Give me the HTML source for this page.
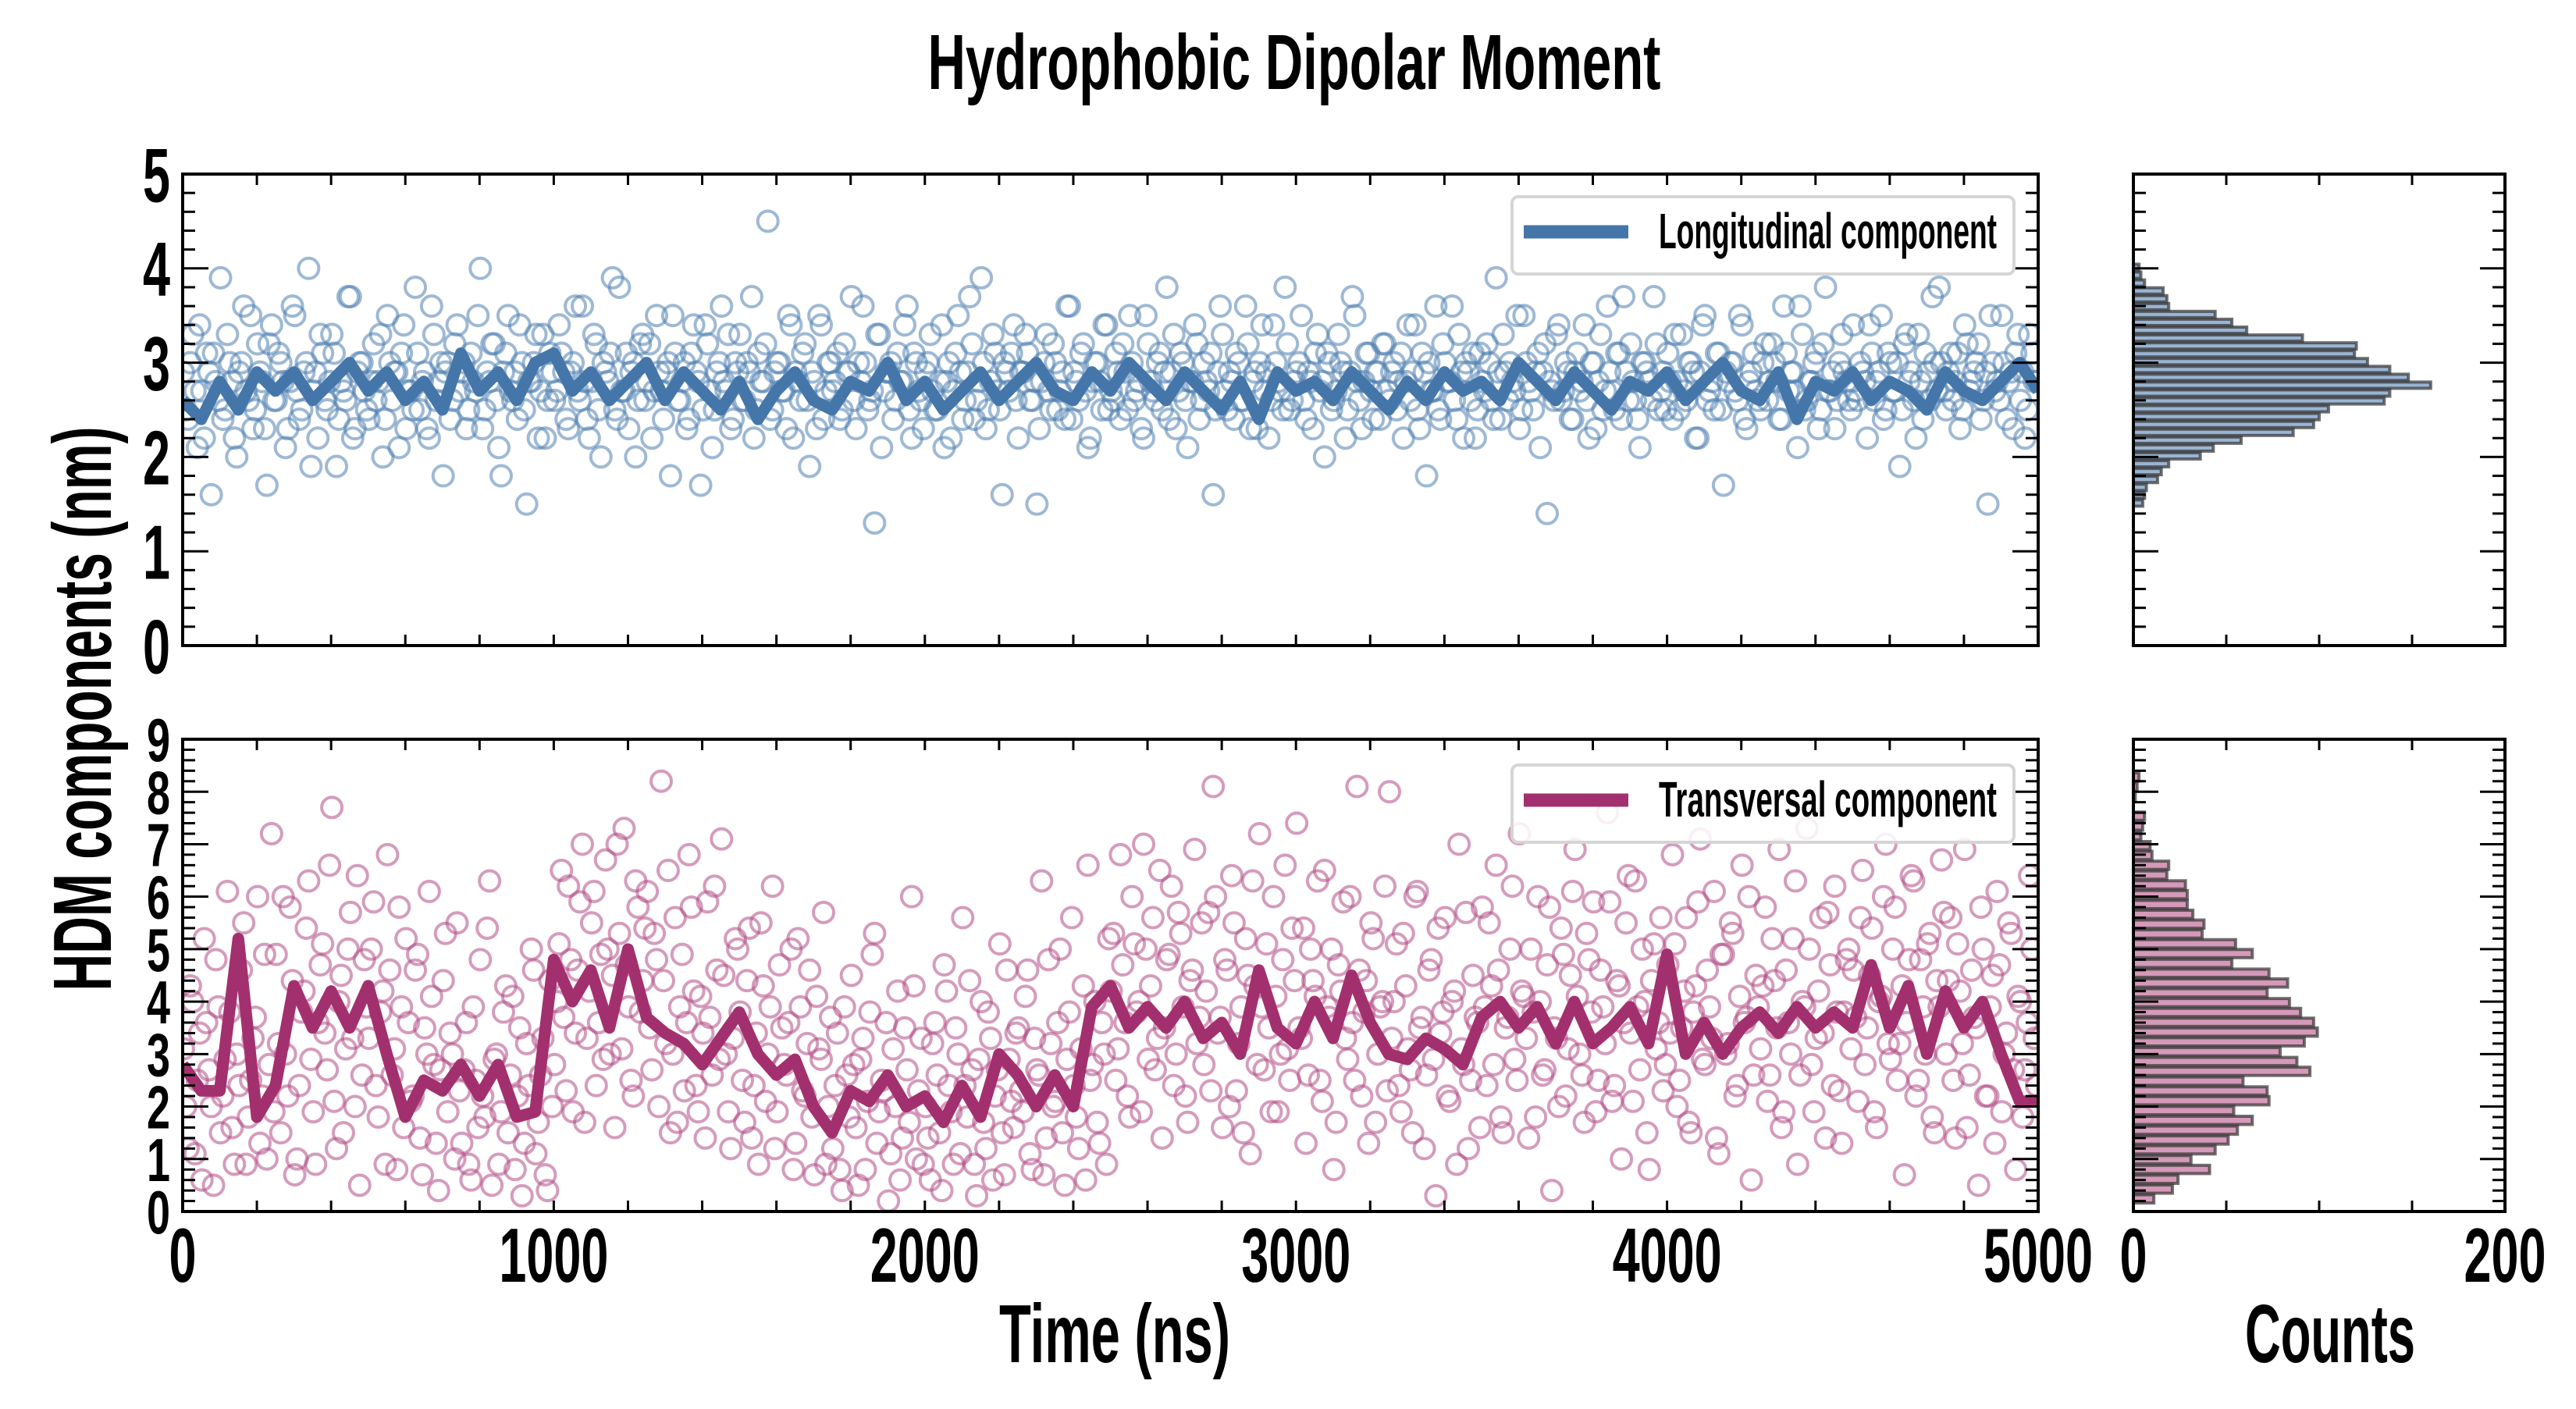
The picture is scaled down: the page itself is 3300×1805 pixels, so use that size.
<!DOCTYPE html>
<html><head><meta charset="utf-8"><style>
html,body{margin:0;padding:0;background:#fff}
svg text{font-family:"Liberation Sans Narrow","Liberation Sans",sans-serif;font-weight:bold;fill:#000}
</style></head><body>
<svg id="fig" width="3300" height="1800" viewBox="0 0 3300 1800" xmlns="http://www.w3.org/2000/svg">
<rect width="3300" height="1800" fill="#fff"/>
<text x="1658" y="114" font-size="100" text-anchor="middle" textLength="939" lengthAdjust="spacingAndGlyphs">Hydrophobic Dipolar Moment</text>
<g id="top"></g>
<g id="bot"></g>
<g id="htop"></g>
<g id="hbot"></g>
<text x="106" y="908" font-size="106" text-anchor="middle" transform="rotate(-90 106 908)" dy="36" textLength="723" lengthAdjust="spacingAndGlyphs">HDM components (nm)</text>
<text x="1428" y="1745" font-size="106" text-anchor="middle" textLength="296" lengthAdjust="spacingAndGlyphs">Time (ns)</text>
<text x="2985" y="1745" font-size="106" text-anchor="middle" textLength="218" lengthAdjust="spacingAndGlyphs">Counts</text>
</svg>
<script>
const longScatter=[2.9,2.4,3.3,2.1,2.7,3.1,1.6,2.8,3.9,2.5,3.0,2.2,2.9,3.6,2.6,2.3,3.2,2.8,1.7,3.4,
2.6,3.0,2.1,2.8,3.5,2.4,2.9,4.0,2.7,2.2,3.1,2.5,3.3,1.9,2.8,2.6,3.7,2.3,3.0,2.7,
2.4,3.2,2.8,2.0,3.5,2.6,2.9,3.1,2.3,2.7,3.8,2.5,2.9,2.2,3.3,2.8,1.8,3.0,2.6,3.4,
2.9,2.3,3.1,2.7,4.0,2.5,2.8,3.2,2.1,2.9,3.5,2.6,2.4,3.0,1.5,2.8,3.3,2.7,2.2,3.1,
2.6,3.4,2.9,2.3,3.0,2.7,3.6,2.4,2.8,3.2,2.0,2.9,3.1,2.5,3.8,2.7,2.3,3.0,2.6,3.3,
2.8,2.2,3.5,2.7,2.9,1.8,3.1,2.6,3.0,2.4,3.4,2.8,2.5,3.2,2.1,2.9,3.6,2.7,2.3,3.0,
3.3,2.6,2.9,2.2,3.1,2.8,4.5,2.5,3.0,2.7,2.3,3.4,2.9,2.6,3.2,1.9,2.8,3.5,2.4,3.0,
2.7,3.1,2.5,2.9,3.7,2.3,2.8,3.0,2.6,1.3,3.3,2.7,2.9,2.4,3.1,2.8,3.6,2.2,3.0,2.6,
2.9,3.3,2.5,2.8,2.1,3.0,2.7,3.5,2.4,2.9,3.2,2.6,3.9,2.3,2.8,3.1,2.5,3.0,2.7,3.4,
2.2,2.9,3.1,2.6,1.5,2.8,3.3,2.5,3.0,2.7,2.4,3.6,2.9,2.6,3.2,2.1,2.8,3.0,2.5,3.4,
2.7,3.1,2.4,2.9,3.5,2.6,2.8,2.2,3.2,2.7,3.0,2.5,3.8,2.9,2.3,3.1,2.6,2.8,3.4,2.4,
3.0,2.7,1.6,2.9,3.3,2.5,2.8,3.1,2.6,3.6,2.3,2.9,3.0,2.7,2.2,3.4,2.8,2.5,3.2,2.6,
2.9,3.5,2.4,2.8,3.1,2.7,2.0,3.0,2.6,3.3,2.9,2.5,3.7,2.8,2.3,3.1,2.7,2.9,2.4,3.2,
2.6,3.0,2.8,2.2,3.4,2.9,2.5,3.1,1.8,2.7,3.6,2.4,3.0,2.8,2.6,3.3,2.2,2.9,3.1,2.5,
2.8,3.2,2.6,3.9,2.4,2.9,3.0,2.7,2.3,3.5,2.8,2.5,3.1,2.9,1.4,2.7,3.3,2.6,3.0,2.4,
2.9,2.7,3.4,2.2,3.0,2.8,2.5,3.6,2.7,3.1,2.4,2.9,3.2,2.6,2.1,3.0,2.8,3.7,2.5,2.9,
3.1,2.4,2.8,3.3,2.6,3.0,2.2,2.9,3.5,2.7,2.5,3.1,1.7,2.8,3.0,2.6,3.4,2.3,2.9,2.7,
2.5,3.2,2.8,3.0,2.4,3.6,2.7,2.9,2.1,3.3,2.6,2.8,3.1,2.5,3.8,2.7,2.3,3.0,2.9,2.6,
3.4,2.6,2.9,2.2,3.1,2.8,3.5,2.5,3.0,2.7,1.9,3.2,2.8,2.6,3.3,2.4,2.9,3.7,2.7,3.0,
2.5,3.1,2.8,2.3,3.4,2.7,2.9,3.2,2.6,1.5,3.0,2.8,3.5,2.4,2.9,3.1,2.6,2.2,3.3,2.8];
const longScatter2=[2.5,3.0,2.7,3.4,2.2,2.9,3.1,2.6,2.4,3.3,2.8,2.0,3.0,2.7,3.5,2.5,2.9,2.3,3.2,2.6,
3.1,2.8,2.3,3.6,2.7,2.5,3.0,1.9,2.9,3.3,2.6,2.8,3.1,2.4,2.7,3.7,2.2,2.9,3.0,2.5,
2.8,2.6,3.3,2.4,3.0,2.9,2.1,3.4,2.7,2.5,3.1,2.8,2.3,3.6,2.6,3.0,2.9,2.4,3.2,2.7,
3.0,2.5,2.8,3.5,2.3,2.9,3.2,2.6,1.8,3.1,2.7,2.9,3.4,2.5,2.8,3.0,2.2,3.3,2.6,2.9,
2.7,3.1,2.4,2.9,3.6,2.6,2.8,2.2,3.3,2.5,3.0,2.8,3.9,2.4,2.7,3.1,2.9,2.0,3.2,2.6,
3.2,2.7,2.9,2.4,3.0,3.5,2.6,2.8,2.3,3.1,2.9,1.7,3.4,2.7,2.5,3.0,2.8,3.3,2.4,2.9,
2.6,3.0,3.7,2.5,2.8,3.2,2.4,2.9,3.0,2.7,3.5,2.2,2.8,3.1,2.6,2.9,2.3,3.4,2.7,3.0,
2.8,2.4,3.2,2.9,2.6,3.0,3.6,2.5,2.7,3.3,2.1,2.9,3.0,2.6,2.8,3.4,2.5,3.1,2.7,2.3,
3.0,2.7,2.5,3.4,2.8,2.2,3.1,2.9,2.6,3.7,2.4,2.8,3.0,2.5,3.3,2.7,1.6,2.9,3.1,2.6,
2.9,3.3,2.6,2.8,2.3,3.0,2.7,3.2,2.5,2.9,3.6,2.4,2.8,3.1,2.7,2.2,3.0,2.8,3.4,2.5,
2.6,2.9,3.2,2.5,3.0,2.7,2.3,3.5,2.8,2.6,3.1,2.9,2.4,3.3,2.7,3.0,2.1,2.8,3.2,2.6,
2.8,3.1,2.5,3.6,2.7,2.9,2.4,3.0,2.6,3.2,2.8,2.3,3.4,2.9,2.6,3.0,2.7,3.8,2.5,2.8,
3.0,2.6,2.9,2.3,3.3,2.8,3.1,2.5,2.7,3.0,2.2,2.9,3.5,2.6,2.8,3.1,2.4,2.9,3.2,2.7,
2.9,2.5,3.1,2.8,2.6,3.4,2.3,2.9,3.0,2.7,2.5,3.2,2.8,3.6,2.4,2.9,3.0,2.6,2.2,3.1,
2.7,3.0,2.4,2.9,3.3,2.6,2.8,3.5,2.5,3.0,2.7,2.9,2.1,3.2,2.8,2.6,3.4,2.7,2.9,2.4,
3.1,2.8,2.6,3.0,2.3,3.3,2.7,2.9,2.5,3.1,3.7,2.6,2.8,2.4,3.0,2.9,2.6,3.2,2.7,2.5,
2.8,3.3,2.5,2.7,3.0,2.9,2.2,3.4,2.6,2.8,3.1,2.5,2.9,3.0,2.7,3.5,2.4,2.8,3.1,2.6,
3.0,2.6,3.2,2.8,2.4,3.1,2.9,2.7,3.6,2.5,2.8,3.0,2.3,3.2,2.7,2.9,2.6,3.3,2.8,2.5,
2.7,3.0,2.8,3.4,2.6,2.9,2.4,3.1,2.7,3.0,2.5,3.3,2.9,2.2,2.8,3.1,2.6,3.0,3.8,2.7,
2.9,2.6,3.1,2.5,3.2,2.8,3.0,2.4,2.9,3.5,2.7,2.6,3.0,2.8,2.3,3.3,2.9,2.5,3.1,2.8];
const transScatter=[3.1,1.2,4.0,2.5,0.6,3.6,2.0,4.8,1.5,2.9,3.8,0.9,2.4,5.5,1.8,3.3,6.0,2.2,1.0,7.2,
4.9,1.5,3.0,5.8,0.7,2.4,4.2,6.3,1.9,3.6,5.1,2.7,7.7,1.2,4.5,3.1,5.7,2.0,0.5,4.8,
3.3,5.9,1.8,4.2,6.8,2.6,0.8,3.9,5.2,2.1,4.6,1.4,3.5,6.1,2.8,0.4,4.4,1.9,3.0,5.5,
1.3,3.6,0.6,2.5,4.8,1.8,6.3,2.9,0.9,3.8,1.5,4.1,2.2,0.3,3.2,5.0,1.1,2.6,0.7,4.4,
2.8,5.1,3.7,6.2,1.9,4.6,7.0,3.3,5.5,2.4,4.9,6.7,3.0,1.6,5.3,7.3,3.9,2.2,5.8,4.4,
6.1,2.7,4.8,8.2,3.2,1.5,5.6,3.9,2.3,6.8,4.2,1.9,3.4,5.9,2.6,4.6,7.1,3.0,1.2,5.2,
3.8,1.7,5.4,2.4,0.9,4.3,3.0,6.2,1.9,3.5,2.6,5.0,1.3,3.9,2.2,4.6,0.7,3.1,5.7,2.0,
1.2,3.4,0.4,2.6,4.5,1.6,2.9,0.8,3.8,5.3,1.9,2.3,0.2,3.1,4.2,1.4,2.7,6.0,1.0,3.3,
2.0,0.6,3.6,1.5,4.7,2.4,0.9,3.0,5.6,1.8,2.7,0.3,4.0,1.2,3.3,2.2,5.1,0.7,2.9,1.6,
3.5,1.9,4.6,0.8,2.7,6.3,1.4,3.2,2.1,5.0,0.5,3.8,2.4,1.2,4.3,6.6,2.8,1.7,3.6,0.9,
4.2,2.5,6.8,3.6,1.8,5.1,4.0,7.0,2.9,5.6,3.3,1.4,4.8,6.2,3.0,5.3,2.2,4.4,6.9,3.7,
2.8,5.7,8.1,3.4,1.6,4.6,6.4,2.3,3.9,5.2,1.1,4.3,7.2,2.7,3.5,6.0,1.9,4.8,3.1,5.4,
7.4,3.3,1.3,5.0,4.1,2.5,6.5,3.7,0.8,4.7,5.9,2.9,3.6,8.1,2.2,4.4,5.5,1.7,3.9,6.2,
8.0,4.0,2.4,5.3,3.1,1.5,6.1,3.7,2.6,4.8,0.3,3.4,5.6,2.1,4.2,7.0,2.8,1.2,4.5,3.6,
5.8,2.4,4.3,6.6,1.8,3.5,5.0,2.9,7.2,4.1,1.4,3.8,6.0,2.6,4.7,0.4,3.3,5.4,2.2,4.5,
6.9,3.0,1.7,4.8,5.9,2.5,3.9,7.6,2.1,4.4,1.0,5.5,3.4,6.3,2.7,4.0,0.8,5.1,3.6,2.3,
4.7,6.8,2.0,3.5,5.6,1.5,4.3,7.1,2.8,3.9,6.1,1.1,4.9,3.2,5.3,2.4,6.6,3.7,0.6,4.5,
3.1,5.8,2.6,4.4,6.9,1.9,3.6,5.2,0.9,4.0,7.3,2.8,3.3,5.6,1.4,4.7,6.2,2.3,3.8,5.0,
4.6,2.1,6.5,3.5,5.4,1.6,4.1,7.0,2.9,5.8,3.2,0.7,4.8,6.3,2.5,3.9,5.1,1.8,4.4,6.7,
3.0,5.6,1.4,4.2,6.9,2.6,3.7,0.5,5.0,2.2,4.5,6.1,1.9,3.4,5.3,0.8,4.0,2.7,6.4,3.3];
const transScatter2=[2.0,4.3,1.1,3.4,5.2,2.7,0.5,3.9,2.2,6.1,1.6,3.0,4.6,0.9,2.5,3.7,1.3,4.9,2.8,1.9,
3.2,6.0,2.2,4.4,1.0,3.8,5.4,2.9,0.9,4.7,3.4,6.6,2.1,4.0,1.5,5.0,3.3,6.4,2.6,3.9,
5.0,2.4,3.8,0.9,4.6,3.1,5.8,1.6,3.6,2.2,4.9,0.7,3.0,4.1,1.3,2.7,5.3,3.4,1.0,2.3,
2.7,0.9,3.9,1.6,2.2,5.4,0.5,3.0,1.9,4.3,2.6,0.8,3.5,1.3,2.4,4.6,1.7,3.3,0.4,2.0,
4.0,6.5,2.3,4.8,3.4,5.9,1.7,4.2,6.1,3.6,2.9,5.0,4.5,7.0,3.1,4.7,2.5,6.3,3.8,5.4,
3.5,5.3,2.0,4.4,6.5,3.0,1.7,4.9,3.6,5.8,2.4,4.1,1.4,3.7,6.2,2.9,4.5,1.9,3.3,5.0,
2.5,4.4,1.4,3.4,5.5,2.1,3.9,1.2,4.7,2.8,3.6,0.8,5.2,2.3,3.2,1.8,4.1,2.9,0.9,3.7,
2.4,0.8,3.9,1.8,2.8,0.5,3.3,2.1,4.9,1.3,2.5,3.6,1.1,2.0,0.6,3.5,1.7,4.3,2.3,0.9,
1.4,3.2,2.6,0.4,4.2,1.9,3.5,1.1,2.4,4.4,0.9,2.9,1.7,3.8,0.6,2.7,1.5,4.6,2.1,3.4,
2.3,4.1,1.1,3.3,2.6,0.7,4.8,2.0,3.6,1.5,2.9,5.6,1.8,3.1,0.6,2.5,4.0,1.3,3.0,5.2,
5.3,3.1,4.7,2.2,6.0,3.8,1.9,5.0,4.3,2.7,6.5,3.5,4.9,2.4,5.7,3.9,1.7,4.6,3.2,5.5,
4.2,2.3,6.0,3.7,4.8,2.0,5.5,3.2,1.5,4.5,6.3,2.8,3.9,5.1,1.9,4.1,3.0,6.6,2.5,4.4,
3.5,5.4,2.6,4.4,6.3,2.1,3.9,5.0,1.7,4.2,3.3,6.0,2.5,4.6,3.8,1.3,5.2,3.0,4.0,2.3,
3.3,5.1,1.9,4.3,2.7,6.0,3.5,1.2,4.6,2.9,5.4,3.8,2.2,4.0,0.9,3.1,5.7,2.5,3.7,1.6,
3.9,5.5,2.8,4.6,1.5,3.7,6.2,2.5,4.2,3.3,5.0,1.8,4.0,2.7,5.8,3.5,2.0,4.9,3.1,6.1,
4.1,2.6,5.3,3.8,1.9,4.6,3.2,5.9,2.4,4.3,3.6,6.4,2.1,3.9,5.0,1.5,4.4,3.1,5.6,2.8,
3.4,5.1,2.5,4.2,1.7,3.8,5.9,2.9,4.6,3.3,1.4,4.9,3.0,5.5,2.2,4.1,3.6,6.0,2.6,3.9,
4.3,2.1,5.2,3.5,1.6,4.6,3.0,6.3,2.6,3.9,5.0,1.9,4.2,3.4,5.7,2.4,3.8,1.3,4.8,3.1,
3.7,5.6,2.8,4.5,1.9,4.0,6.0,3.2,5.0,2.5,4.3,3.6,6.4,2.2,4.8,3.0,5.3,1.5,3.9,5.7,
4.4,2.5,5.1,3.2,1.6,4.6,3.5,5.8,2.2,3.9,1.3,4.7,3.0,5.5,2.7,4.1,1.8,3.6,5.0,2.4];
const longMean=[2.6,2.4,2.8,2.5,2.9,2.7,2.9,2.6,2.8,3.0,2.7,2.9,2.6,2.8,2.5,3.1,2.7,2.9,2.6,3.0,
3.1,2.7,2.9,2.6,2.8,3.0,2.6,2.9,2.7,2.5,2.8,2.4,2.7,2.9,2.6,2.5,2.8,2.7,3.0,2.6,
2.8,2.5,2.7,2.9,2.6,2.8,3.0,2.7,2.6,2.9,2.7,3.0,2.8,2.6,2.9,2.7,2.5,2.8,2.4,2.9,
2.7,2.8,2.6,2.9,2.7,2.5,2.8,2.6,2.9,2.7,2.8,2.6,3.0,2.8,2.6,2.9,2.7,2.5,2.8,2.7,
2.9,2.6,2.8,3.0,2.7,2.6,2.9,2.4,2.8,2.7,2.9,2.6,2.8,2.7,2.5,2.9,2.7,2.6,2.8,3.0,2.7];
const transMean=[2.8,2.3,2.3,5.2,1.8,2.4,4.3,3.5,4.2,3.5,4.3,3.0,1.8,2.5,2.3,2.8,2.2,2.8,1.8,1.9,
4.8,4.0,4.6,3.5,5.0,3.7,3.4,3.2,2.8,3.3,3.8,3.0,2.6,2.9,2.0,1.5,2.3,2.1,2.6,2.0,
2.2,1.7,2.4,1.8,3.0,2.6,2.0,2.6,2.0,3.9,4.3,3.5,3.9,3.5,4.0,3.3,3.6,3.0,4.6,3.5,
3.2,4.0,3.3,4.5,3.6,3.0,2.9,3.3,3.1,2.8,3.7,4.0,3.5,3.9,3.2,4.0,3.2,3.5,3.9,3.2,
4.9,3.0,3.6,3.0,3.5,3.8,3.4,3.9,3.5,3.8,3.5,4.7,3.5,4.3,3.0,4.2,3.5,4.0,3.0,2.1,2.1];
const longCounts=[5,6,7,13,15,19,36,43,58,86,97,100,105,135,138,160,148,138,126,119,120,91,61,53,44,19,18,16,6,4,3];
const transCounts=[11,21,24,41,31,44,51,56,64,54,73,72,59,95,88,79,92,99,97,90,84,72,83,73,53,64,55,37,38,32,29,29,28,18,19,10,9,4,5,6,0,1,2,3];
const longBinStart=1.47, longBinW=0.0833;
const transBinStart=0.147, transBinW=0.187;
const xTicks=[0,1000,2000,3000,4000,5000];
const yTicksTop=[0,1,2,3,4,5];
const yTicksBot=[0,1,2,3,4,5,6,7,8,9];
const histTicks=[0,200];

const NS='http://www.w3.org/2000/svg';
function mk(p,tag,at){const e=document.createElementNS(NS,tag);for(const k in at)e.setAttribute(k,at[k]);p.appendChild(e);return e;}
const X0=234,X1=2611, HX0=2733,HX1=3209;
const sx=t=>X0+(t/5000)*(X1-X0);
const hx=c=>HX0+(c/200)*(HX1-HX0);
const DW=35, TFS=98;

function panel(g,y0,y1,ymax,scat,scat2,mean,col,lineCol,ytl,legText,legY,showX,yfs,ydw){
  const sy=v=>y1-(v/ymax)*(y1-y0);
  const clip=mk(g,'clipPath',{id:'c'+y0});mk(clip,'rect',{x:X0,y:y0,width:X1-X0,height:y1-y0});
  const cg=mk(g,'g',{'clip-path':'url(#c'+y0+')'});
  
  
  const step=5000/scat.length;
  [[scat,2],[scat2,2+step/2]].forEach(([arr,off])=>{
    arr.forEach((v,i)=>{const c=mk(cg,'circle',{cx:sx(i*step+off),cy:sy(v),r:13,fill:'none',stroke:col,'stroke-width':4,'stroke-opacity':0.55});
      
      });
  });
  const d=mean.map((v,i)=>(i?'L':'M')+sx(i*5000/(mean.length-1)).toFixed(1)+' '+sy(v).toFixed(1)).join(' ');
  const pl=mk(g,'path',{d:d,fill:'none',stroke:lineCol,'stroke-width':15,'stroke-linejoin':'round','clip-path':'url(#c'+y0+')'});
  
  
  const tk=mk(g,'g',{stroke:'#000','stroke-width':3});
  
  
  for(let t=0;t<=5000;t+=200){mk(tk,'line',{x1:sx(t),x2:sx(t),y1:y1,y2:y1-14});mk(tk,'line',{x1:sx(t),x2:sx(t),y1:y0,y2:y0+14});}
  for(let v=0;v<=ymax+1e-6;v+=0.2){const maj=Math.abs(v-Math.round(v))<1e-6;const L=maj?33:16;
    mk(tk,'line',{x1:X0,x2:X0+L,y1:sy(v),y2:sy(v)});mk(tk,'line',{x1:X1,x2:X1-L,y1:sy(v),y2:sy(v)});}
  mk(g,'rect',{x:X0,y:y0,width:X1-X0,height:y1-y0,fill:'none',stroke:'#000','stroke-width':4});
  ytl.forEach(v=>{const s=String(v);const t=mk(g,'text',{x:218,y:sy(v)+yfs*0.36,'font-size':yfs,'text-anchor':'end',textLength:s.length*ydw,lengthAdjust:'spacingAndGlyphs'});t.textContent=s;
    
    });
  if(showX){xTicks.forEach(v=>{const s=String(v);const t=mk(g,'text',{x:sx(v),y:1642,'font-size':TFS,'text-anchor':'middle',textLength:s.length*DW,lengthAdjust:'spacingAndGlyphs'});t.textContent=s;
    
    });}
  const lg=mk(g,'g',{});
  
  
  mk(lg,'rect',{x:1937,y:legY-45,width:643,height:99,rx:8,fill:'#fff','fill-opacity':0.85,stroke:'#d5d5d5','stroke-width':4});
  mk(lg,'line',{x1:1952,x2:2086,y1:legY,y2:legY,stroke:lineCol,'stroke-width':17});
  const lt=mk(lg,'text',{x:2125,y:legY+21,'font-size':64,textLength:433,lengthAdjust:'spacingAndGlyphs'});lt.textContent=legText;
  
  
}
function hist(g,y0,y1,ymax,counts,b0,bw,fill,showX){
  const sy=v=>y1-(v/ymax)*(y1-y0);
  counts.forEach((c,i)=>{if(!c)return;const lo=b0+i*bw;
    const r=mk(g,'rect',{x:HX0,y:sy(lo+bw)+1,width:hx(c)-HX0,height:sy(lo)-sy(lo+bw)-2,fill:fill,stroke:'#333','stroke-opacity':0.7,'stroke-width':4});
    
    });
  const tk=mk(g,'g',{stroke:'#000','stroke-width':3});
  for(let c=0;c<=200;c+=50){mk(tk,'line',{x1:hx(c),x2:hx(c),y1:y1,y2:y1-14});mk(tk,'line',{x1:hx(c),x2:hx(c),y1:y0,y2:y0+14});}
  for(let v=0;v<=ymax+1e-6;v+=0.2){const maj=Math.abs(v-Math.round(v))<1e-6;const L=maj?32:16;
    mk(tk,'line',{x1:HX0,x2:HX0+L,y1:sy(v),y2:sy(v)});mk(tk,'line',{x1:HX1,x2:HX1-L,y1:sy(v),y2:sy(v)});}
  mk(g,'rect',{x:HX0,y:y0,width:HX1-HX0,height:y1-y0,fill:'none',stroke:'#000','stroke-width':4});
  if(showX){histTicks.forEach(v=>{const s=String(v);const t=mk(g,'text',{x:hx(v),y:1642,'font-size':TFS,'text-anchor':'middle',textLength:s.length*DW,lengthAdjust:'spacingAndGlyphs'});t.textContent=s;
    
    });}
}
panel(document.getElementById('top'),223,827,5,longScatter,longScatter2,longMean,'#4f7fb0','#4576aa',yTicksTop,'Longitudinal component',297,false,98,35);
panel(document.getElementById('bot'),947,1552,9,transScatter,transScatter2,transMean,'#b24b85','#a3306e',yTicksBot,'Transversal component',1025,true,78,30);
hist(document.getElementById('htop'),223,827,5,longCounts,longBinStart,longBinW,'#9ab5d3',false);
hist(document.getElementById('hbot'),947,1552,9,transCounts,transBinStart,transBinW,'#d599b9',true);
</script>
</body></html>
